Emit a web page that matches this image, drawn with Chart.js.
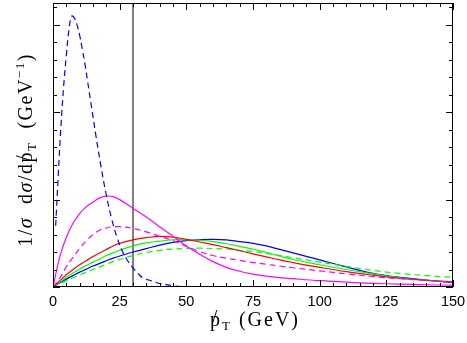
<!DOCTYPE html>
<html>
<head>
<meta charset="utf-8">
<script src="https://cdn.jsdelivr.net/npm/chart.js@4/dist/chart.umd.min.js"></script>
<style>
  html, body { margin: 0; padding: 0; background: #fff; }
  .chart-box { width: 467px; height: 343px; }
</style>
</head>
<body>
<div class="chart-box"><canvas id="chart"></canvas></div>
<script>
// x grid shared by the broad curves
const xBroad = [0, 2.5, 5, 7.5, 10, 12.5, 15, 17.5, 20, 22.5, 25, 30, 35, 40, 45, 50, 55, 60, 65, 70, 75, 80, 85, 90, 100, 110, 120, 130, 140, 150];
const redSolid = [0, 0.07, 0.14, 0.2, 0.255, 0.3, 0.35, 0.39, 0.43, 0.47, 0.5, 0.54, 0.565, 0.58, 0.57, 0.545, 0.515, 0.485, 0.45, 0.415, 0.38, 0.345, 0.31, 0.28, 0.225, 0.175, 0.135, 0.1, 0.077, 0.06];
const greenSolid = [0, 0.055, 0.11, 0.16, 0.205, 0.245, 0.285, 0.32, 0.36, 0.39, 0.42, 0.47, 0.505, 0.525, 0.54, 0.54, 0.535, 0.52, 0.495, 0.465, 0.435, 0.395, 0.355, 0.315, 0.255, 0.2, 0.15, 0.105, 0.075, 0.057];
const greenDashed = [0, 0.035, 0.07, 0.105, 0.14, 0.17, 0.2, 0.23, 0.26, 0.29, 0.315, 0.36, 0.395, 0.42, 0.435, 0.44, 0.445, 0.44, 0.435, 0.42, 0.405, 0.385, 0.36, 0.335, 0.285, 0.235, 0.19, 0.155, 0.13, 0.11];
const blueSolid = [0, 0.045, 0.09, 0.13, 0.17, 0.205, 0.24, 0.27, 0.3, 0.33, 0.355, 0.4, 0.44, 0.48, 0.51, 0.53, 0.54, 0.545, 0.54, 0.52, 0.5, 0.47, 0.43, 0.39, 0.31, 0.23, 0.155, 0.11, 0.08, 0.05];
const magentaSolid = [0, 0.34, 0.57, 0.73, 0.84, 0.92, 0.97, 1.02, 1.04, 1.035, 1.0, 0.9, 0.8, 0.69, 0.58, 0.47, 0.375, 0.29, 0.225, 0.18, 0.148, 0.125, 0.108, 0.095, 0.072, 0.055, 0.042, 0.033, 0.026, 0.02];
const magentaDashed = [0, 0.1, 0.23, 0.34, 0.44, 0.53, 0.6, 0.65, 0.675, 0.69, 0.69, 0.67, 0.63, 0.58, 0.53, 0.465, 0.405, 0.36, 0.33, 0.305, 0.28, 0.26, 0.24, 0.22, 0.185, 0.15, 0.12, 0.095, 0.075, 0.055];

const xBlueDashed = [1, 2, 3, 4, 5, 6, 7, 8, 9, 10, 11, 12, 13, 14, 15, 16, 18, 20, 22, 24, 26, 28, 30, 32, 34, 37, 40, 45, 50];
const blueDashed = [0.7, 1.3, 1.85, 2.3, 2.65, 2.95, 3.1, 3.08, 3.0, 2.88, 2.72, 2.55, 2.35, 2.15, 1.95, 1.75, 1.38, 1.05, 0.78, 0.57, 0.41, 0.3, 0.22, 0.15, 0.1, 0.07, 0.04, 0.015, 0];

const cutValue = 30;
const xTickLabels = [0, 25, 50, 75, 100, 125, 150];
const xMin = 0, xMax = 150, yMin = 0, yMax = 3.25;

const pts = (xs, ys) => xs.map((x, i) => ({ x, y: ys[i] }));

const curve = (data, color, dashed) => ({
  data,
  borderColor: color,
  borderWidth: 1.2,
  borderDash: dashed ? [6, 4] : [],
  pointRadius: 0,
  tension: 0.4,
  fill: false,
});

const serif = "'Liberation Serif', serif";

// inward ticks on all four sides, the frame and the axis titles
const frameTicks = {
  id: "frameTicks",
  afterDraw(chart) {
    const { ctx, chartArea: a, scales } = chart;
    const sx = scales.x, sy = scales.y;
    ctx.save();
    ctx.strokeStyle = "#000";
    ctx.lineWidth = 1;
    ctx.strokeRect(a.left + 0.5, a.top + 0.5, a.right - a.left - 1, a.bottom - a.top - 1);
    ctx.beginPath();
    for (let v = xMin; v <= xMax; v += 5) {
      const len = v % 25 === 0 ? 7 : 4;
      const px = Math.round(sx.getPixelForValue(v)) + 0.5;
      ctx.moveTo(px, a.bottom); ctx.lineTo(px, a.bottom - len);
      ctx.moveTo(px, a.top); ctx.lineTo(px, a.top + len);
    }
    for (let i = 0; i * 0.2 <= yMax + 1e-9; i++) {
      const len = i % 5 === 0 ? 7 : 4;
      const py = Math.round(sy.getPixelForValue(i * 0.2)) + 0.5;
      ctx.moveTo(a.left, py); ctx.lineTo(a.left + len, py);
      ctx.moveTo(a.right, py); ctx.lineTo(a.right - len, py);
    }
    ctx.stroke();

    // pieces: t text, s size, dy baseline shift, it italic, slash = struck p
    const fontOf = (p) => `${p.it ? "italic " : ""}${p.s}px ${serif}`;
    const drawPieces = (pieces) => {
      let w = 0;
      pieces.forEach((p) => { ctx.font = fontOf(p); w += ctx.measureText(p.t).width; });
      let x = -w / 2;
      pieces.forEach((p) => {
        ctx.font = fontOf(p);
        const pw = ctx.measureText(p.t).width;
        ctx.fillText(p.t, x, p.dy);
        if (p.slash) {
          ctx.fillText("/", x + pw * 0.15, p.dy - p.s * 0.1);
        }
        x += pw;
      });
    };
    ctx.fillStyle = "#000";
    ctx.textBaseline = "alphabetic";
    ctx.textAlign = "left";

    const big = 20, small = 13;
    ctx.save();
    ctx.letterSpacing = "2px";
    ctx.translate((a.left + a.right) / 2 + 2, 326);
    drawPieces([
      { t: "p", s: big, dy: 0, slash: true },
      { t: "T", s: small, dy: 4 },
      { t: " (GeV)", s: big, dy: 0 },
    ]);
    ctx.restore();

    ctx.save();
    ctx.letterSpacing = "1.5px";
    ctx.translate(32, 150);
    ctx.rotate(-Math.PI / 2);
    drawPieces([
      { t: "1/", s: big, dy: 0 },
      { t: "\u03c3", s: big, dy: 0, it: true },
      { t: "  d", s: big, dy: 0 },
      { t: "\u03c3", s: big, dy: 0, it: true },
      { t: "/d", s: big, dy: 0 },
      { t: "p", s: big, dy: 0, slash: true },
      { t: "T", s: small, dy: 4 },
      { t: "  (GeV", s: big, dy: 0 },
      { t: "\u22121", s: small, dy: -8 },
      { t: ")", s: big, dy: 0 },
    ]);
    ctx.restore();
    ctx.restore();
  },
};

new Chart(document.getElementById("chart"), {
  type: "line",
  data: {
    datasets: [
      curve(pts(xBlueDashed, blueDashed), "#0000ff", true),
      curve(pts(xBroad, magentaSolid), "#ff00ff", false),
      curve(pts(xBroad, magentaDashed), "#ff00ff", true),
      curve(pts(xBroad, redSolid), "#ff0000", false),
      curve(pts(xBroad, greenSolid), "#00ff00", false),
      curve(pts(xBroad, greenDashed), "#00ff00", true),
      curve(pts(xBroad, blueSolid), "#0000ff", false),
      {
        data: [{ x: cutValue, y: yMin }, { x: cutValue, y: yMax }],
        borderColor: "#000",
        borderWidth: 1,
        pointRadius: 0,
      },
    ],
  },
  options: {
    responsive: true,
    maintainAspectRatio: false,
    animation: false,
    layout: { padding: { top: 3, right: 14, left: 0, bottom: 0 } },
    plugins: { legend: { display: false }, tooltip: { enabled: false } },
    scales: {
      x: {
        type: "linear",
        min: xMin,
        max: xMax,
        grid: { display: false, drawTicks: false },
        border: { display: false },
        afterBuildTicks: (s) => { s.ticks = xTickLabels.map((v) => ({ value: v })); },
        afterFit: (s) => { s.height = 56; s.paddingRight = 0; s.paddingLeft = 0; },
        ticks: {
          padding: 6,
          color: "#000",
          maxRotation: 0,
          font: { family: "'Liberation Sans', sans-serif", size: 14.5 },
        },
      },
      y: {
        type: "linear",
        min: yMin,
        max: yMax,
        grid: { display: false, drawTicks: false },
        border: { display: false },
        ticks: { display: false },
        afterFit: (s) => { s.width = 53; },
      },
    },
  },
  plugins: [frameTicks],
});
</script>
</body>
</html>
